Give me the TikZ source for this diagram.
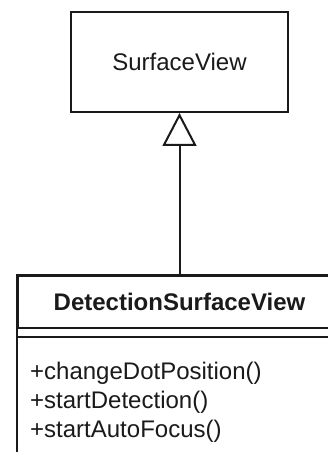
\documentclass[tikz,border=0pt]{standalone}
\usepackage{fontspec}
\setmainfont{Liberation Sans}
\usetikzlibrary{positioning,arrows.meta}
\definecolor{ink}{HTML}{1A1A1A}

\begin{document}
\begin{tikzpicture}[x=1pt, y=1pt,
    every node/.style={font=\fontsize{24}{29}\selectfont, text=ink},
    cls/.style={draw=ink, fill=white, line width=2pt, inner sep=0pt},
    rule/.style={draw=ink, line width=2pt},
    member/.style={anchor=base west, inner sep=0pt},
    inherit/.style={-{Triangle[open, length=33pt, width=34pt, fill=white]}, draw=ink, line width=2pt},
  ]
  % canvas, cut to the size of the reference
  \path[use as bounding box, clip] (0,0) rectangle (328,452);
  \fill[white] (0,0) rectangle (328,452);

  % the parent class
  \node[cls, minimum width=217pt, minimum height=100pt] (super) at (179.5,390) {SurfaceView};

  % the child class: name, double rule, then its operations
  \node[cls, minimum width=323pt, minimum height=52pt,
        font=\fontsize{24}{29}\selectfont\bfseries] (sub) at (179.5,150) {DetectionSurfaceView};
  \draw[rule] (sub.north west) rectangle ([yshift=-220pt]sub.north east);
  \coordinate (bodytl) at ([yshift=-8pt]sub.south west);
  \draw[rule] (bodytl) -- (bodytl -| sub.south east);

  \node[member] (op1) at (30,72) {+changeDotPosition()};
  \node[member] (op2) at (30,43) {+startDetection()};
  \node[member] (op3) at (30,14) {+startAutoFocus()};

  % generalisation
  \draw[inherit] (sub.north) -- (super.south);
\end{tikzpicture}
\end{document}
